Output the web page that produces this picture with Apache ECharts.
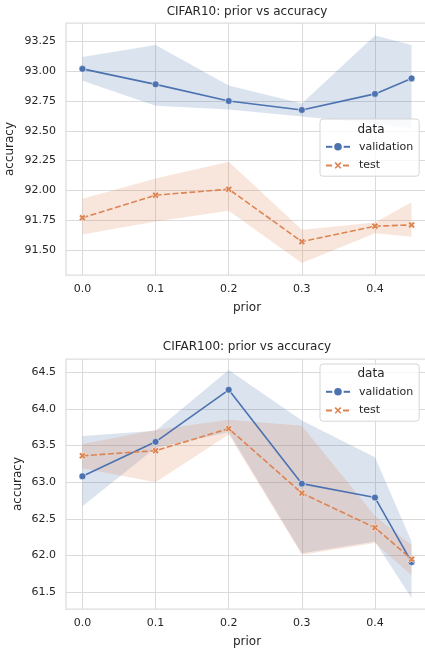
<!DOCTYPE html>
<html>
<head>
<meta charset="utf-8">
<script src="https://cdn.jsdelivr.net/npm/echarts@6/dist/echarts.min.js"></script>
<style>
  html, body { margin: 0; padding: 0; background: #fff; }
  #chart { width: 425px; height: 653px; }
</style>
</head>
<body>
<div id="chart"></div>
<script>
const priors = [0, 0.1, 0.2, 0.3, 0.4, 0.45];
const xTicks = [0, 0.1, 0.2, 0.3, 0.4];

// CIFAR10
const c10ValMean = [93.02, 92.89, 92.75, 92.675, 92.81, 92.94];
const c10ValLow = [92.92, 92.71, 92.68, 92.62, 92.56, 92.52];
const c10ValHigh = [93.12, 93.22, 92.88, 92.73, 93.30, 93.22];
const c10TestMean = [91.77, 91.96, 92.01, 91.57, 91.70, 91.71];
const c10TestLow = [91.63, 91.74, 91.83, 91.39, 91.64, 91.61];
const c10TestHigh = [91.93, 92.10, 92.24, 91.67, 91.73, 91.90];
const c10YTicks = [91.5, 91.75, 92.0, 92.25, 92.5, 92.75, 93.0, 93.25];

// CIFAR100
const c100ValMean = [63.08, 63.55, 64.26, 62.98, 62.79, 61.91];
const c100ValLow = [62.67, 63.47, 63.68, 62.03, 62.19, 61.42];
const c100ValHigh = [63.63, 63.70, 64.53, 63.84, 63.34, 62.19];
const c100TestMean = [63.36, 63.43, 63.73, 62.85, 62.38, 61.95];
const c100TestLow = [63.19, 63.00, 63.65, 62.01, 62.17, 61.73];
const c100TestHigh = [63.52, 63.71, 63.85, 63.77, 62.54, 62.14];
const c100YTicks = [61.5, 62.0, 62.5, 63.0, 63.5, 64.0, 64.5];

const BLUE = '#4c72b0';
const ORANGE = '#dd8452';
const TEXT = '#262626';
const FONT = 'DejaVu Sans';
const X_MARK = 'path://M0,2.6 L2.6,0 L5,2.4 L7.4,0 L10,2.6 L7.6,5 L10,7.4 L7.4,10 L5,7.6 L2.6,10 L0,7.4 L2.4,5 Z';

function pairs(ys) {
  return priors.map((p, i) => [p, ys[i]]);
}

// confidence band: one polygon through the upper edge and back along the lower edge
function bandSeries(idx, low, high, color) {
  return {
    type: 'custom',
    xAxisIndex: idx,
    yAxisIndex: idx,
    coordinateSystem: 'cartesian2d',
    data: priors.map((p, i) => [p, low[i], high[i]]),
    encode: { x: 0, y: [1, 2] },
    silent: true,
    z: 1,
    renderItem: function (params, api) {
      if (params.dataIndex !== 0) return null;
      const pts = [];
      for (let i = 0; i < priors.length; i++) pts.push(api.coord([priors[i], high[i]]));
      for (let i = priors.length - 1; i >= 0; i--) pts.push(api.coord([priors[i], low[i]]));
      return {
        type: 'polygon',
        shape: { points: pts },
        style: { fill: color, opacity: 0.2 },
      };
    },
  };
}

function lineSeries(idx, name, mean, dashed) {
  return {
    type: 'line',
    name: name,
    xAxisIndex: idx,
    yAxisIndex: idx,
    data: pairs(mean),
    symbol: dashed ? X_MARK : 'circle',
    symbolSize: 7,
    itemStyle: { color: dashed ? ORANGE : BLUE, borderColor: '#fff', borderWidth: 0.6 },
    lineStyle: {
      color: dashed ? ORANGE : BLUE,
      width: 1.6,
      type: dashed ? [6, 2.5] : 'solid',
    },
    z: 3,
  };
}

function xAxisFor(idx) {
  return {
    type: 'value',
    gridIndex: idx,
    min: -0.0225,
    max: 0.4725,
    name: 'prior',
    nameLocation: 'middle',
    nameGap: 27,
    nameTextStyle: { color: TEXT, fontSize: 12, fontFamily: FONT },
    axisLine: { show: false },
    axisTick: { show: false, customValues: xTicks },
    axisLabel: {
      customValues: xTicks,
      formatter: (v) => v.toFixed(1),
      color: TEXT,
      fontSize: 11,
      fontFamily: FONT,
      margin: 9,
    },
    splitLine: { show: true, lineStyle: { color: '#dadada', width: 1 } },
  };
}

function yAxisFor(idx, min, max, ticks, digits, gap) {
  return {
    type: 'value',
    gridIndex: idx,
    min: min,
    max: max,
    name: 'accuracy',
    nameLocation: 'middle',
    nameGap: gap,
    nameMoveOverlap: false,
    nameTextStyle: { color: TEXT, fontSize: 12, fontFamily: FONT },
    axisLine: { show: false },
    axisTick: { show: false, customValues: ticks },
    axisLabel: {
      customValues: ticks,
      formatter: (v) => v.toFixed(digits),
      color: TEXT,
      fontSize: 11,
      fontFamily: FONT,
      margin: 10,
    },
    splitLine: { show: true, lineStyle: { color: '#dadada', width: 1 } },
  };
}

function legendAt(top) {
  return {
    orient: 'vertical',
    left: 320,
    top: top,
    data: ['validation', 'test'],
    itemWidth: 24,
    itemHeight: 12,
    itemGap: 7,
    padding: [22, 6, 5, 5],
    backgroundColor: 'rgba(255,255,255,0.8)',
    borderColor: '#d6d6d6',
    borderWidth: 1,
    borderRadius: 3,
    textStyle: { color: TEXT, fontSize: 11, fontFamily: FONT, padding: [0, 0, 0, 4] },
    selectedMode: false,
    z: 10,
  };
}

function textAt(x, y, text) {
  return {
    type: 'text',
    x: x,
    y: y,
    z: 100,
    style: {
      text: text,
      fill: TEXT,
      font: '12px "DejaVu Sans"',
      textAlign: 'center',
      textVerticalAlign: 'middle',
    },
  };
}

const gridBase = {
  left: 66,
  width: 362,
  show: true,
  borderColor: '#dddddd',
  borderWidth: 1.25,
  backgroundColor: 'transparent',
  outerBoundsMode: 'none',
  containLabel: false,
};

const chart = echarts.init(document.getElementById('chart'), null, { renderer: 'canvas' });

chart.setOption({
  backgroundColor: '#fff',
  animation: false,
  textStyle: { fontFamily: FONT },
  grid: [
    { ...gridBase, top: 23, height: 252 },
    { ...gridBase, top: 359, height: 250 },
  ],
  xAxis: [xAxisFor(0), xAxisFor(1)],
  yAxis: [
    yAxisFor(0, 91.29, 93.405, c10YTicks, 2, 50),
    yAxisFor(1, 61.27, 64.68, c100YTicks, 1, 42),
  ],
  legend: [legendAt(119), legendAt(364)],
  graphic: [
    textAt(247, 12, 'CIFAR10: prior vs accuracy'),
    textAt(247, 347, 'CIFAR100: prior vs accuracy'),
    textAt(371, 130, 'data'),
    textAt(371, 374, 'data'),
  ],
  series: [
    bandSeries(0, c10ValLow, c10ValHigh, BLUE),
    bandSeries(0, c10TestLow, c10TestHigh, ORANGE),
    lineSeries(0, 'validation', c10ValMean, false),
    lineSeries(0, 'test', c10TestMean, true),
    bandSeries(1, c100ValLow, c100ValHigh, BLUE),
    bandSeries(1, c100TestLow, c100TestHigh, ORANGE),
    lineSeries(1, 'validation', c100ValMean, false),
    lineSeries(1, 'test', c100TestMean, true),
  ],
});
</script>
</body>
</html>
